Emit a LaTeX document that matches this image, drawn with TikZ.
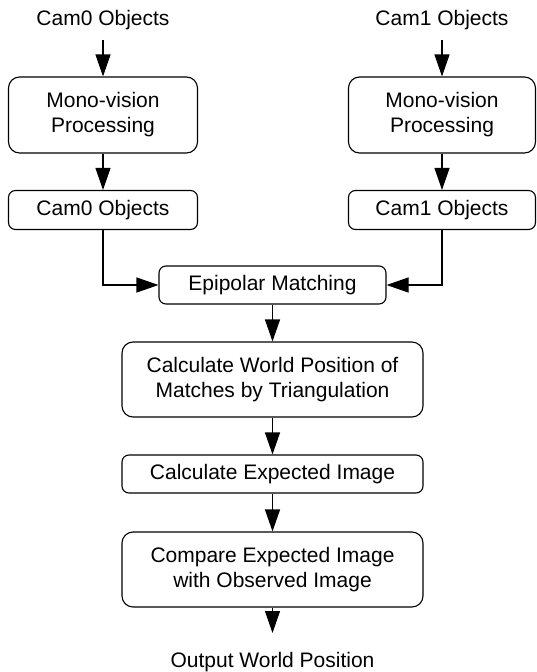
\documentclass[tikz,border=0pt]{standalone}
\usepackage{fontspec}
\setmainfont{Liberation Sans}
\usetikzlibrary{arrows.meta}
\begin{document}
\begin{tikzpicture}[x=1pt,y=-1pt,
  every node/.style={font=\fontsize{21}{25}\selectfont, align=center, inner sep=0pt},
  bigbox/.style={draw, line width=1.1pt, rounded corners=11pt},
  smallbox/.style={draw, line width=1.1pt, rounded corners=7pt},
  arr/.style={line width=1.1pt, -{Triangle[length=22pt,width=15pt]}}]
\useasboundingbox (0,0) rectangle (536,672);
% left column
\node (lin) at (103,20) {Cam0 Objects};
\node[bigbox, minimum width=189pt, minimum height=76pt] (lmono) at (103,115) {Mono-vision\\Processing};
\node[smallbox, minimum width=189pt, minimum height=39pt] (lobj) at (103,210) {Cam0 Objects};
% right column
\node (rin) at (442,20) {Cam1 Objects};
\node[bigbox, minimum width=187pt, minimum height=76pt] (rmono) at (442,115) {Mono-vision\\Processing};
\node[smallbox, minimum width=187pt, minimum height=39pt] (robj) at (442,210) {Cam1 Objects};
% center
\node[smallbox, minimum width=227pt, minimum height=38pt] (epi) at (272.5,285) {Epipolar Matching};
\node[bigbox, minimum width=301pt, minimum height=75pt] (calc) at (272.5,379.5) {Calculate World Position of\\Matches by Triangulation};
\node[smallbox, minimum width=301pt, minimum height=38pt] (exp) at (272.5,474) {Calculate Expected Image};
\node[bigbox, minimum width=301pt, minimum height=75pt] (cmp) at (272.5,569.5) {Compare Expected Image\\with Observed Image};
\node (out) at (272.5,662) {Output World Position};
% connectors
\draw[arr] (lin.south |- 0,40) -- (lmono.north);
\draw[arr] (lmono) -- (lobj);
\draw[arr] (rin.south |- 0,40) -- (rmono.north);
\draw[arr] (rmono) -- (robj);
\draw[arr] (lobj.south) |- (epi.west);
\draw[arr] (robj.south) |- (epi.east);
\draw[arr] (epi) -- (calc);
\draw[arr] (calc) -- (exp);
\draw[arr] (exp) -- (cmp);
\draw[arr] (cmp.south) -- (out.north |- 0,633);
\end{tikzpicture}
\end{document}
